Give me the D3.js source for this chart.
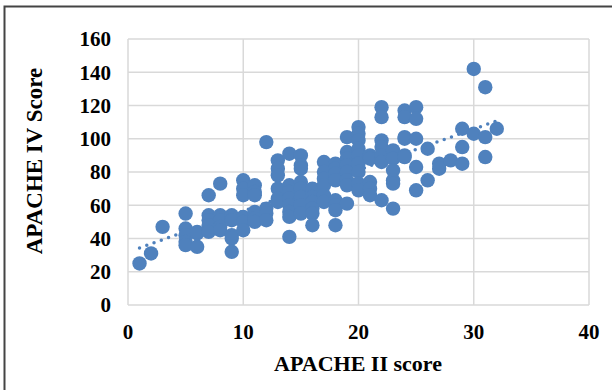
<!DOCTYPE html>
<html>
<head>
<meta charset="utf-8">
<script src="https://cdn.jsdelivr.net/npm/d3@7"></script>
<style>
  html, body { margin: 0; padding: 0; background: #fff; }
  text { font-family: "Liberation Serif", "Times New Roman", serif; font-weight: bold; fill: #000; }
</style>
</head>
<body>
<div id="chart"></div>
<script>
// APACHE II score (x) and APACHE IV score (y), one entry per patient
const apache2 = [
  1, 2, 3,
  5, 5, 5, 5, 5,
  6, 6, 6,
  7, 7, 7, 7, 7,
  8, 8, 8, 8, 8,
  9, 9, 9, 9, 9,
  10, 10, 10, 10, 10, 10,
  11, 11, 11, 11, 11, 11,
  12, 12, 12, 12,
  13, 13, 13, 13, 13, 13,
  14, 14, 14, 14, 14, 14, 14, 14,
  15, 15, 15, 15, 15, 15, 15, 15,
  16, 16, 16, 16, 16, 16,
  17, 17, 17, 17, 17, 17,
  18, 18, 18, 18, 18, 18, 18, 18,
  19, 19, 19, 19, 19, 19, 19, 19,
  20, 20, 20, 20, 20, 20, 20, 20, 20,
  21, 21, 21, 21, 21,
  22, 22, 22, 22, 22, 22, 22,
  23, 23, 23, 23, 23, 23,
  24, 24, 24, 24, 24, 24,
  25, 25, 25, 25, 25,
  26, 26,
  27, 27,
  28,
  29, 29, 29,
  30, 30,
  31, 31, 31,
  32
];
const apache4 = [
  25, 31, 47,
  55, 46, 42, 38, 36,
  35, 43, 44,
  66, 54, 51, 48, 44,
  73, 54, 51, 47, 45,
  54, 51, 42, 40, 32,
  75, 70, 66, 53, 50, 45,
  72, 68, 66, 56, 52, 50,
  98, 58, 55, 51,
  87, 82, 78, 70, 64, 62,
  91, 72, 68, 64, 60, 56, 53, 41,
  90, 84, 82, 74, 70, 65, 60, 55,
  70, 65, 62, 58, 55, 48,
  86, 80, 76, 72, 66, 62,
  85, 82, 79, 75, 63, 60, 57, 48,
  101, 92, 88, 84, 80, 75, 72, 61,
  107, 103, 99, 94, 90, 85, 80, 73, 69,
  90, 88, 74, 70, 66,
  119, 113, 99, 95, 90, 86, 63,
  93, 88, 81, 75, 73, 58,
  117, 113, 101, 100, 90, 89,
  119, 112, 100, 83, 69,
  94, 75,
  85, 82,
  87,
  106, 95, 85,
  142, 103,
  131, 101, 89,
  106
];
const xTicks = [0, 10, 20, 30, 40];
const yTicks = [0, 20, 40, 60, 80, 100, 120, 140, 160];

const width = 612;
const height = 390;
const margin = { top: 39, right: 23, bottom: 85, left: 128 };
const blue = '#4f81bd';
const grid = '#d9d9d9';

const svg = d3.select('#chart')
  .append('svg')
  .attr('width', width)
  .attr('height', height);

svg.append('rect')
  .attr('width', width)
  .attr('height', height)
  .attr('fill', '#fff');

// outer frame (only left and top edges show in the picture)
svg.append('path')
  .attr('d', `M4.5,${height} V6.5 H${width}`)
  .attr('fill', 'none')
  .attr('stroke', '#444')
  .attr('stroke-width', 2);

const x = d3.scaleLinear().domain([0, 40]).range([margin.left, width - margin.right]);
const y = d3.scaleLinear().domain([0, 160]).range([height - margin.bottom, margin.top]);

// gridlines
svg.append('g')
  .selectAll('line')
  .data(yTicks)
  .enter()
  .append('line')
  .attr('x1', x(0))
  .attr('x2', x(40))
  .attr('y1', d => y(d))
  .attr('y2', d => y(d))
  .attr('stroke', grid)
  .attr('stroke-width', 1.5);

svg.append('g')
  .selectAll('line')
  .data(xTicks)
  .enter()
  .append('line')
  .attr('x1', d => x(d))
  .attr('x2', d => x(d))
  .attr('y1', y(0))
  .attr('y2', y(160))
  .attr('stroke', grid)
  .attr('stroke-width', 1.5);

// tick labels
svg.append('g')
  .selectAll('text')
  .data(yTicks)
  .enter()
  .append('text')
  .attr('x', 111)
  .attr('y', d => y(d))
  .attr('dy', '0.35em')
  .attr('text-anchor', 'end')
  .style('font-size', '21px')
  .text(d => d);

svg.append('g')
  .selectAll('text')
  .data(xTicks)
  .enter()
  .append('text')
  .attr('x', d => x(d))
  .attr('y', 339)
  .attr('text-anchor', 'middle')
  .style('font-size', '21px')
  .text(d => d);

// axis titles
svg.append('text')
  .attr('x', 358)
  .attr('y', 371)
  .attr('text-anchor', 'middle')
  .style('font-size', '22px')
  .text('APACHE II score');

svg.append('text')
  .attr('transform', 'translate(42,161) rotate(-90)')
  .attr('text-anchor', 'middle')
  .style('font-size', '23px')
  .text('APACHE IV Score');

// linear trendline (least squares fit of the points)
const points = apache2.map((v, i) => [v, apache4[i]]);
const mx = d3.mean(apache2);
const my = d3.mean(apache4);
const slope = d3.sum(points, p => (p[0] - mx) * (p[1] - my)) / d3.sum(points, p => (p[0] - mx) ** 2);
const intercept = my - slope * mx;
const [xmin, xmax] = d3.extent(apache2);

svg.append('line')
  .attr('x1', x(xmin))
  .attr('y1', y(intercept + slope * xmin))
  .attr('x2', x(xmax))
  .attr('y2', y(intercept + slope * xmax))
  .attr('stroke', blue)
  .attr('stroke-width', 3.5)
  .attr('stroke-linecap', 'round')
  .attr('stroke-dasharray', '0,7.7');

// markers
svg.append('g')
  .selectAll('circle')
  .data(points)
  .enter()
  .append('circle')
  .attr('cx', d => x(d[0]))
  .attr('cy', d => y(d[1]))
  .attr('r', 7.2)
  .attr('fill', blue);
</script>
</body>
</html>
